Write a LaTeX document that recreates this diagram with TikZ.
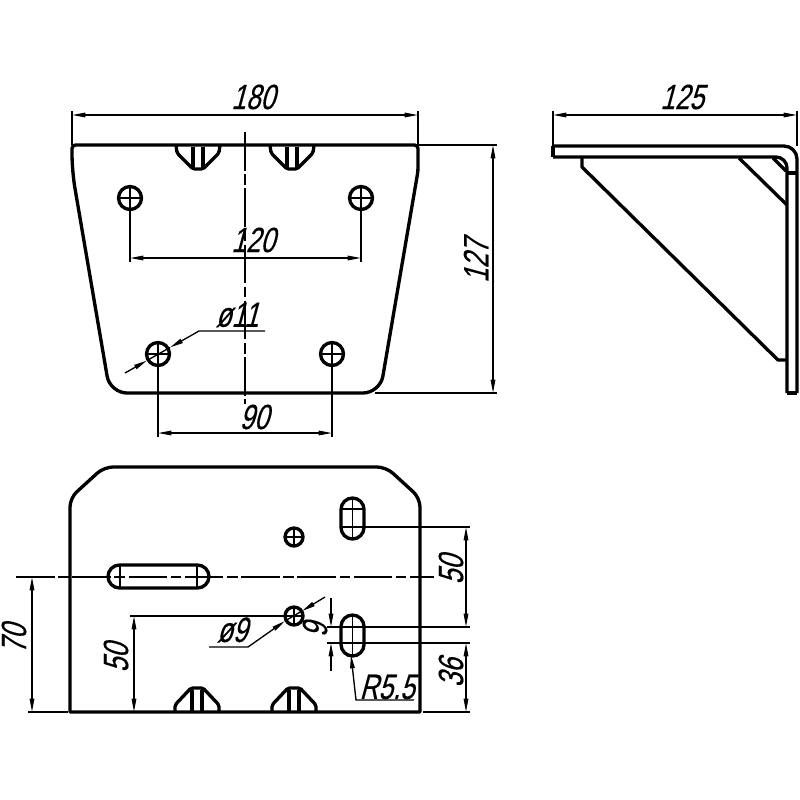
\documentclass[tikz,border=0pt]{standalone}
\usepackage{fontspec}
\setmainfont[FakeSlant=0.27,FakeStretch=0.74,FakeBold=0.3]{Liberation Sans}
\usetikzlibrary{arrows.meta}
\tikzstyle{outline} = [line width=0.95pt, line join=round, black]
\tikzstyle{thinline} = [line width=0.38pt, black]
\tikzstyle{dim} = [thinline, {Stealth[length=3.8pt,width=1.3pt,inset=0pt]}-{Stealth[length=3.8pt,width=1.3pt,inset=0pt]}]
\tikzstyle{tip} = [thinline, -{Stealth[length=3.8pt,width=1.3pt,inset=0pt]}]
\tikzstyle{axis} = [thinline, dash pattern=on 11pt off 1pt on 3pt off 1pt]
\tikzstyle{label} = [font=\fontsize{10}{11}\selectfont, inner sep=0pt, black]
\begin{document}
\begin{tikzpicture}[x=0.01cm, y=-0.01cm]
          \useasboundingbox (0,0) rectangle (800,800);
          % top view
          \draw [outline] (72,160) [rounded corners=1pt] -- (72,145) -- (418,145) -- (418,171) [rounded corners=0.17cm] -- (380,393) -- (110,393) -- (72,171) [sharp corners] -- cycle;
          \foreach \px/\py in {130/198, 361/198, 158/354, 332/354} {
            \draw [outline] (\px,\py) circle (11.5);
            \draw [thinline] (\px-11,\py) -- (\px+11,\py) (\px,\py-11) -- (\px,\py+11);
          }
          \foreach \px in {176, 270} {
            \draw [outline, rounded corners=0.5pt] (\px,145) -- (\px+1,153) -- (\px+17,169) -- (\px+27,169) -- (\px+43,153) -- (\px+44,145);
            \draw [outline] (\px+17,147) -- (\px+17,169) (\px+27,147) -- (\px+27,169);
          }
          \draw [axis] (245,132) -- (245,404);
          \draw [thinline] (72,145) -- (72,111) (418,145) -- (418,111);
          \draw [dim] (72,115) -- (418,115);
          \node (topwidth) [label] at (253,97) {180};
          \draw [thinline] (130,210) -- (130,262) (361,210) -- (361,262);
          \draw [dim] (130,258) -- (361,258);
          \node (holes120) [label] at (253,240) {120};
          \draw [thinline] (158,354) -- (158,437) (332,354) -- (332,437);
          \draw [dim] (158,433) -- (332,433);
          \node (holes90) [label] at (254,417) {90};
          \draw [thinline] (418,145) -- (497,145) (375,393) -- (497,393);
          \draw [dim] (493,145) -- (493,393);
          \node (topheight) [label, rotate=90] at (476,261) {127};
          \draw [tip] (125,373) -- (147,360.5);
          \draw [tip] (265,331) -- (199,331) -- (170,347.5);
          \draw [thinline] (147,360.5) -- (170,347.5);
          \node (bigdia) [label] at (237,315) {ø11};
          % side view
          \draw [outline, rounded corners=0.13cm] (553,146) -- (797,146) -- (797,393);
          \draw [outline, rounded corners=0.11cm] (553,157) -- (787,157) -- (787,393);
          \draw [outline] (553,146) -- (553,157) (787,393) -- (797,393);
          \draw [outline] (787,173) -- (797,173);
          \draw [outline] (773,158) -- (786,171);
          \draw [outline] (739,158) -- (787,205);
          \draw [outline] (582,158) -- (582,167) -- (778,360) -- (787,360);
          \draw [thinline] (553,146) -- (553,111) (797,146) -- (797,111);
          \draw [dim] (553,115) -- (797,115);
          \node (sidewidth) [label] at (682,97) {125};
          % front view
          \draw [outline] (70,712) [rounded corners=0.09cm] -- (70,498) -- (104,467) -- (386,467) -- (420,498) [sharp corners] -- (420,712) -- cycle;
          \draw [outline, rounded corners=0.115cm] (108,565) rectangle (209,588);
          \draw [thinline] (120,565) -- (120,588) (197,565) -- (197,588);
          \draw [axis] (16,577) -- (434,577);
          \foreach \px/\py in {294/537, 294/616} {
            \draw [outline] (\px,\py) circle (9);
            \draw [thinline] (\px-8,\py) -- (\px+8,\py) (\px,\py-8) -- (\px,\py+8);
          }
          \foreach \slotY in {498, 615} {
            \draw [outline, rounded corners=0.115cm] (341,\slotY) rectangle (364,\slotY+41);
            \draw [thinline] (352.5,\slotY) -- (352.5,\slotY+41);
          }
          \draw [thinline] (341,509) -- (364,509) (341,527) -- (470,527) (341,627) -- (470,627) (341,643) -- (470,643);
          \foreach \px in {175, 272} {
            \draw [outline, rounded corners=0.5pt] (\px,712) -- (\px,705) -- (\px+16,688) -- (\px+28,688) -- (\px+44,705) -- (\px+44,712);
            \draw [outline] (\px+17,690) -- (\px+17,712) (\px+27,690) -- (\px+27,712);
          }
          \draw [thinline] (28,712) -- (68,712);
          \draw [dim] (32,577) -- (32,712);
          \node (axis70) [label, rotate=90] at (14,639) {70};
          \draw [thinline] (130,616) -- (294,616);
          \draw [dim] (134,616) -- (134,712);
          \node (hole50) [label, rotate=90] at (116,658) {50};
          \draw [thinline] (423,712) -- (470,712);
          \draw [dim] (466,527) -- (466,627);
          \node (slots50) [label, rotate=90] at (451,570) {50};
          \draw [dim] (466,643) -- (466,712);
          \node (slots36) [label, rotate=90] at (451,673) {36};
          \draw [thinline] (327,627) -- (341,627) (327,643) -- (341,643);
          \draw [tip] (331,598) -- (331,627);
          \draw [tip] (331,671) -- (331,643);
          \node (slotwidth) [label, rotate=90] at (315,630) {9};
          \draw [tip] (209,647) -- (248,647) -- (285,621);
          \draw [tip] (325,597) -- (302,611);
          \draw [thinline] (285,621) -- (302,611);
          \node (smalldia) [label] at (232,630) {ø9};
          \draw [tip] (414,700) -- (356,700) -- (351,655);
          \node (slotradius) [label] at (387,687) {R5.5};
\end{tikzpicture}
\end{document}
